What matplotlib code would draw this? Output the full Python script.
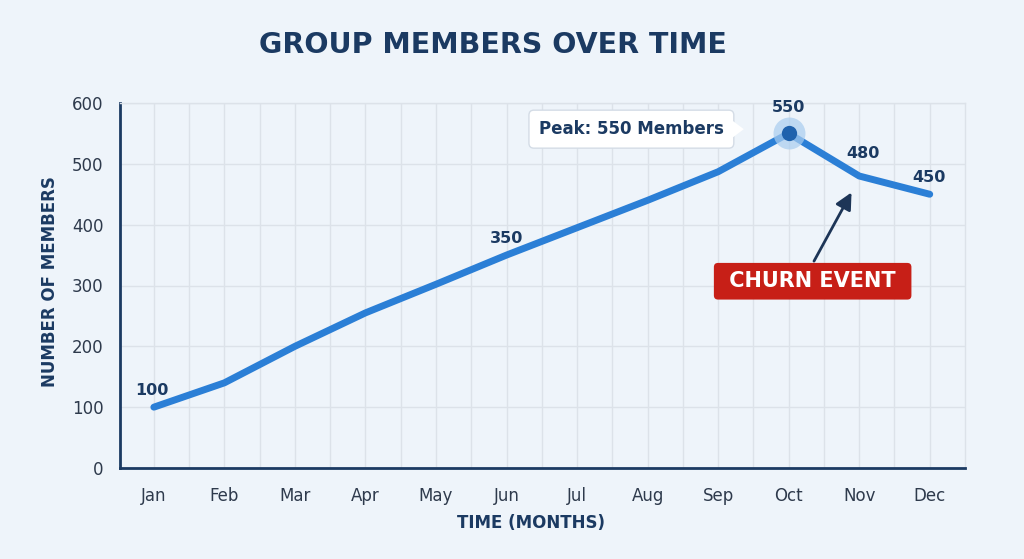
import numpy as np
import matplotlib.pyplot as plt
from matplotlib.patches import Polygon
from matplotlib.transforms import IdentityTransform

months = ['Jan', 'Feb', 'Mar', 'Apr', 'May', 'Jun', 'Jul', 'Aug', 'Sep', 'Oct', 'Nov', 'Dec']
members = [100, 140, 200, 255, 302, 350, 395, 440, 487, 550, 480, 450]
labelled = {0: '100', 5: '350', 9: '550', 10: '480', 11: '450'}
y_ticks = [0, 100, 200, 300, 400, 500, 600]

BG = '#eef4fa'
NAVY = '#1b3a62'
TICK = '#2e3a4c'
GRID = '#dce2e9'
LINE = '#2b7fd6'
RED = '#c71f17'

plt.rcParams['font.family'] = ['DejaVu Sans']

fig = plt.figure(figsize=(10.24, 5.59), dpi=100, facecolor=BG)
ax = fig.add_axes([120 / 1024, 1 - 468 / 559, 845 / 1024, 365 / 559])
ax.set_facecolor(BG)

x = np.arange(len(months))
ax.plot(x, members, color=LINE, lw=5, solid_capstyle='round', solid_joinstyle='round', zorder=3)

# peak marker with halo
peak = int(np.argmax(members))
ax.plot(x[peak], members[peak], 'o', ms=23, color='#a9cdef', alpha=0.7, zorder=4, mec='none')
ax.plot(x[peak], members[peak], 'o', ms=11, color='#1f62ad', zorder=5, mec='none')

# value labels
offsets = {0: (-2, 17), 5: (0, 17), 9: (0, 26), 10: (4, 22), 11: (-1, 17)}
for i, txt in labelled.items():
    ax.annotate(txt, (x[i], members[i]), xytext=offsets[i], textcoords='offset pixels',
                ha='center', va='center', fontsize=11.5, fontweight='bold', color=NAVY, zorder=6)

ax.set_xlim(-0.48, 11.5)
ax.set_ylim(0, 600)
ax.set_xticks(x)
ax.set_xticklabels(months)
ax.set_xticks(x[:-1] + 0.5, minor=True)
ax.set_yticks(y_ticks)
ax.grid(True, which='both', color=GRID, lw=1, zorder=0)
ax.tick_params(axis='both', which='both', length=0, colors=TICK, labelsize=12)
ax.tick_params(axis='x', pad=14)
ax.tick_params(axis='y', pad=12)

for side in ['left', 'bottom']:
    ax.spines[side].set_color(NAVY)
    ax.spines[side].set_linewidth(2)
for side in ['top', 'right']:
    ax.spines[side].set_color(GRID)
    ax.spines[side].set_linewidth(1)

# peak callout box
peak_txt = ax.text(6.77, 557, 'Peak: 550 Members', ha='center', va='center', fontsize=12,
                   fontweight='bold', color=NAVY, zorder=7,
                   bbox=dict(boxstyle='round,pad=0.6,rounding_size=0.3', fc='white', ec='#d4dce6', lw=1))

# churn annotation
ax.annotate('', xy=(9.91, 457), xytext=(9.34, 336),
            arrowprops=dict(arrowstyle='-|>,head_length=1.0,head_width=0.5', color='#1d3557', lw=2),
            zorder=6)
ax.text(9.34, 307, ' CHURN EVENT ', ha='center', va='center', fontsize=15, fontweight='bold',
        color='white', zorder=7,
        bbox=dict(boxstyle='round,pad=0.4,rounding_size=0.2', fc=RED, ec='none'))

fig.text(493 / 1024, 1 - 45 / 559, 'GROUP MEMBERS OVER TIME', ha='center', va='center',
         fontsize=20.5, fontweight='bold', color=NAVY)
fig.text(531 / 1024, 1 - 523 / 559, 'TIME (MONTHS)', ha='center', va='center',
         fontsize=12, fontweight='bold', color=NAVY)
fig.text(50 / 1024, 1 - 282 / 559, 'NUMBER OF MEMBERS', ha='center', va='center', rotation=90,
         fontsize=12, fontweight='bold', color=NAVY)

# pointer triangle on the right side of the callout box
fig.canvas.draw()
bb = peak_txt.get_bbox_patch().get_window_extent()
cy = (bb.y0 + bb.y1) / 2
tri = Polygon([[bb.x1 - 2, cy + 9], [bb.x1 + 10, cy], [bb.x1 - 2, cy - 9]], closed=True,
              fc='white', ec='none', zorder=8, transform=IdentityTransform())
ax.add_patch(tri)

fig.savefig('out.png', dpi=100, facecolor=BG)
